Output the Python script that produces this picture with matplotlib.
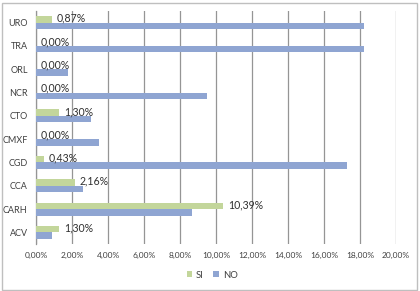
import matplotlib
matplotlib.use("Agg")
import matplotlib.pyplot as plt
from matplotlib.patches import Rectangle
import numpy as np

categories = ["ACV", "CARH", "CCA", "CGD", "CMXF", "CTO", "NCR", "ORL", "TRA", "URO"]
si_values = [1.30, 10.39, 2.16, 0.43, 0.00, 1.30, 0.00, 0.00, 0.00, 0.87]
no_values = [0.90, 8.67, 2.60, 17.30, 3.50, 3.05, 9.50, 1.75, 18.20, 18.20]
x_ticks = [0, 2, 4, 6, 8, 10, 12, 14, 16, 18, 20]
series_names = ["SI", "NO"]

si_color = "#C3D69B"
no_color = "#8FA5D2"

plt.rcParams['font.family'] = ['Lato', 'DejaVu Sans']

fig = plt.figure(figsize=(4.20, 2.91), dpi=100)
ax = fig.add_axes([36/420, 1-244/291, 360/420, 233/291])

y = np.arange(len(categories))
h = 0.28
ax.barh(y + h/2, si_values, height=h, color=si_color, label=series_names[0], zorder=3)
ax.barh(y - h/2, no_values, height=h, color=no_color, label=series_names[1], zorder=3)

for yi, v in zip(y, si_values):
    ax.text(v + 0.28, yi + h/2 + 0.05, f"{v:.2f}%".replace(".", ","), va="center", ha="left",
            fontsize=7.6, color="#303030", zorder=4)

ax.set_xlim(0, 20)
ax.set_ylim(-0.5, len(categories) - 0.5)
ax.set_xticks(x_ticks)
ax.set_xticklabels([f"{t:.2f}%".replace(".", ",") for t in x_ticks], fontsize=6.0, color="#404040")
ax.set_yticks(y)
ax.set_yticklabels(categories, fontsize=6.5, color="#404040")
ax.tick_params(axis="both", length=0, pad=6)
ax.tick_params(axis="y", pad=6)
ax.grid(axis="x", color="#959595", linewidth=0.9, zorder=0)
for s in ["top", "right", "bottom"]:
    ax.spines[s].set_visible(False)
ax.spines["left"].set_color("#959595")
ax.spines["left"].set_linewidth(0.9)

leg = fig.legend(loc="center", bbox_to_anchor=(0.505, 1-275/291), ncol=2, frameon=False,
                 fontsize=6.8, handlelength=0.6, handleheight=0.6, handletextpad=0.4,
                 columnspacing=1.0)
for t in leg.get_texts():
    t.set_color("#404040")

fig.patches.append(Rectangle((1.5/420, 1.5/291), 415/420, 287/291, transform=fig.transFigure,
                             fill=False, edgecolor="#BFBFBF", linewidth=1.0))

fig.savefig("out.png", dpi=100)
